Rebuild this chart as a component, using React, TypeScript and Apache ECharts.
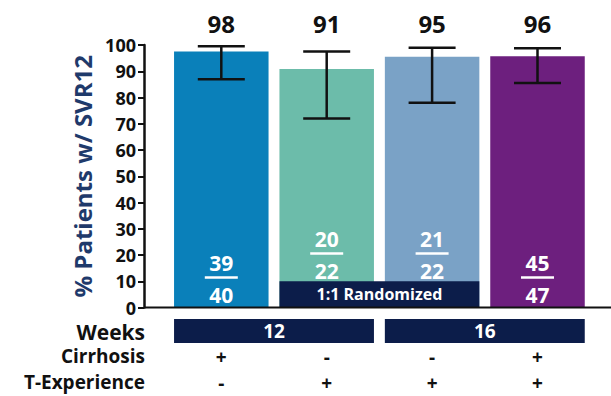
import React, { useEffect, useRef } from 'react';
import * as echarts from 'echarts';

// ---- data ----
const arms = ['Arm 1', 'Arm 2', 'Arm 3', 'Arm 4'];
const responders = [39, 20, 21, 45];
const totals = [40, 22, 22, 47];
const svrPct = [97.5, 90.9, 95.5, 95.7];
const pctLabels = ['98', '91', '95', '96'];
const ciLow = [87, 72, 78, 85.5];
const ciHigh = [99.5, 97.5, 99, 98.8];
const cirrhosis = ['+', '-', '-', '+'];
const experience = ['-', '+', '+', '+'];
const weekGroups = [
  [0, 1],
  [2, 3],
];
const weekLabels = ['12', '16'];
const randomizedSpan = [[1, 2, 10]];
const randomizedLabel = '1:1 Randomized';
const rowLabels = ['Weeks', 'Cirrhosis', 'T-Experience'];
const yAxisTitle = '% Patients w/ SVR12';

// ---- styling ----
const barColors = ['#0a80ba', '#6cbcaa', '#7aa2c6', '#6d1f7e'];
const NAVY = '#0c1d4a';
const TITLE_NAVY = '#1f3a6b';
const INK = '#111111';
const FONT = '"Open Sans", sans-serif';

const W = 611;
const H = 396;
const GRID_LEFT = 168.6;
const GRID_RIGHT = 20.8;
const GRID_TOP = 45;
const GRID_BOTTOM = 88.5;
const Y_OFFSET = 24.6;
const BAR_W = 94.5;
const AXIS_Y = H - GRID_BOTTOM;
const AXIS_X = GRID_LEFT - Y_OFFSET;
const ROW_DY = [24, 49, 75];

export default function App() {
  const ref = useRef<HTMLDivElement>(null);

  useEffect(() => {
    document.body.style.margin = '0';
    if (!ref.current) return;
    const chart = echarts.init(ref.current, undefined, { renderer: 'svg' });

    const option: any = {
      animation: false,
      grid: { left: GRID_LEFT, right: GRID_RIGHT, top: GRID_TOP, bottom: GRID_BOTTOM, containLabel: false },
      xAxis: {
        type: 'category',
        data: arms,
        axisLine: { show: false },
        axisTick: { show: false },
        axisLabel: { show: false },
        splitLine: { show: false },
      },
      yAxis: {
        type: 'value',
        min: 0,
        max: 100,
        interval: 10,
        offset: Y_OFFSET,
        name: yAxisTitle,
        nameLocation: 'middle',
        nameGap: 40,
        nameTextStyle: { fontFamily: FONT, fontWeight: 'bold', fontSize: 24, color: TITLE_NAVY },
        axisLine: { show: true, lineStyle: { color: INK, width: 2.5 } },
        axisTick: { show: true, length: 6, lineStyle: { color: INK, width: 2 } },
        axisLabel: { fontFamily: FONT, fontWeight: 'bold', fontSize: 18, color: INK, margin: 8 },
        splitLine: { show: false },
      },
      graphic: [
        {
          type: 'line',
          shape: { x1: AXIS_X, y1: AXIS_Y, x2: W, y2: AXIS_Y },
          style: { stroke: INK, lineWidth: 2 },
          z: 10,
        },
        ...rowLabels.map((t, i) => ({
          type: 'text',
          x: AXIS_X + 1,
          y: AXIS_Y + ROW_DY[i] - (i === 0 ? 0 : 0.5),
          style: {
            text: t,
            fill: INK,
            font: `bold ${i === 0 ? 21 : 19}px ${FONT}`,
            lineHeight: 19,
            textAlign: 'right',
            textVerticalAlign: 'middle',
          },
        })),
      ],
      series: [
        {
          type: 'bar',
          barWidth: BAR_W,
          data: svrPct.map((v, i) => ({ value: v, itemStyle: { color: barColors[i] } })),
          z: 2,
        },
        // 1:1 randomized box
        {
          type: 'custom',
          clip: false,
          z: 4,
          data: randomizedSpan,
          renderItem: (params: any, api: any) => {
            const s = api.value(0);
            const e = api.value(1);
            const h = api.value(2);
            const p0 = api.coord([s, 0]);
            const p1 = api.coord([e, h]);
            const x0 = p0[0] - BAR_W / 2;
            const x1 = p1[0] + BAR_W / 2;
            return {
              type: 'group',
              children: [
                { type: 'rect', shape: { x: x0, y: p1[1], width: x1 - x0, height: p0[1] - p1[1] }, style: { fill: NAVY } },
                {
                  type: 'text',
                  x: (x0 + x1) / 2,
                  y: (p0[1] + p1[1]) / 2,
                  style: { text: randomizedLabel, fill: '#ffffff', font: `bold 16px ${FONT}`, lineHeight: 16, textAlign: 'center', textVerticalAlign: 'middle' },
                },
              ],
            };
          },
        },
        // error bars
        {
          type: 'custom',
          clip: false,
          z: 5,
          data: arms.map((_, i) => [i, ciLow[i], ciHigh[i]]),
          renderItem: (params: any, api: any) => {
            const i = api.value(0);
            const lo = api.coord([i, api.value(1)]);
            const hi = api.coord([i, api.value(2)]);
            const cap = 23.5;
            const st = { stroke: INK, lineWidth: 2.5 };
            return {
              type: 'group',
              children: [
                { type: 'line', shape: { x1: lo[0], y1: lo[1], x2: hi[0], y2: hi[1] }, style: st },
                { type: 'line', shape: { x1: lo[0] - cap, y1: lo[1], x2: lo[0] + cap, y2: lo[1] }, style: st },
                { type: 'line', shape: { x1: hi[0] - cap, y1: hi[1], x2: hi[0] + cap, y2: hi[1] }, style: st },
              ],
            };
          },
        },
        // labels: percentages, fractions, signs
        {
          type: 'custom',
          clip: false,
          z: 6,
          data: arms.map((_, i) => [i]),
          renderItem: (params: any, api: any) => {
            const i = params.dataIndex;
            const base = api.coord([i, 0]);
            const top = api.coord([i, 100]);
            const x = base[0];
            const shift = i === 1 || i === 2 ? 24 : 0;
            const txt = (t: string, y: number, size: number, fill: string) => ({
              type: 'text',
              x,
              y,
              style: { text: t, fill, font: `bold ${size}px ${FONT}`, lineHeight: size, textAlign: 'center', textVerticalAlign: 'middle' },
            });
            return {
              type: 'group',
              children: [
                txt(pctLabels[i], top[1] - 22, 24, INK),
                txt(String(responders[i]), base[1] - 45 - shift, 21, '#ffffff'),
                {
                  type: 'line',
                  shape: { x1: x - 16.5, y1: base[1] - 30 - shift, x2: x + 16.5, y2: base[1] - 30 - shift },
                  style: { stroke: '#ffffff', lineWidth: 2.5 },
                },
                txt(String(totals[i]), base[1] - 13 - shift, 21, '#ffffff'),
                txt(cirrhosis[i], base[1] + ROW_DY[1], 19, INK),
                txt(experience[i], base[1] + ROW_DY[2], 19, INK),
              ],
            };
          },
        },
        // weeks boxes
        {
          type: 'custom',
          clip: false,
          z: 6,
          data: weekGroups,
          renderItem: (params: any, api: any) => {
            const s = api.coord([api.value(0), 0]);
            const e = api.coord([api.value(1), 0]);
            const x0 = s[0] - BAR_W / 2;
            const x1 = e[0] + BAR_W / 2;
            const y0 = s[1] + 11.5;
            const hgt = 24;
            return {
              type: 'group',
              children: [
                { type: 'rect', shape: { x: x0, y: y0, width: x1 - x0, height: hgt }, style: { fill: NAVY } },
                {
                  type: 'text',
                  x: (x0 + x1) / 2,
                  y: y0 + hgt / 2,
                  style: { text: weekLabels[params.dataIndex], fill: '#ffffff', font: `bold 19px ${FONT}`, lineHeight: 19, textAlign: 'center', textVerticalAlign: 'middle' },
                },
              ],
            };
          },
        },
      ],
    };

    chart.setOption(option);
    return () => chart.dispose();
  }, []);

  return <div ref={ref} style={{ width: W, height: H }} />;
}
